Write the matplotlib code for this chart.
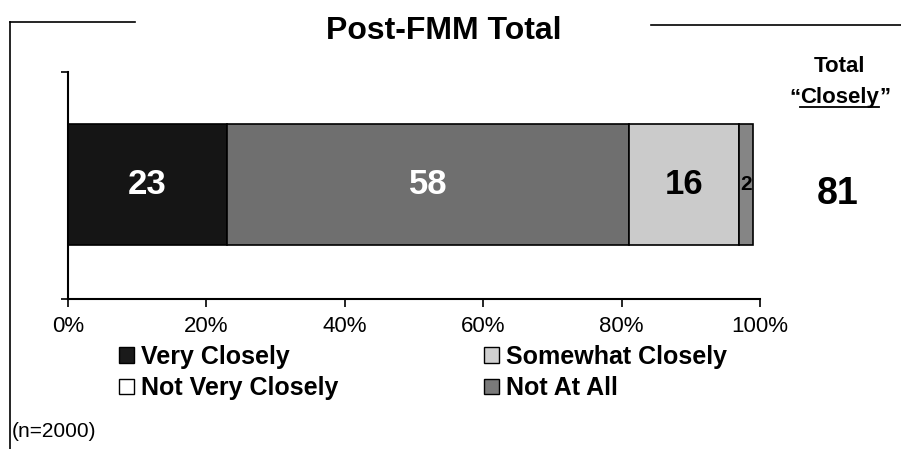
import matplotlib
matplotlib.use("Agg")
import matplotlib.pyplot as plt
from matplotlib.patches import Patch
from matplotlib.lines import Line2D

plt.rcParams['font.family'] = ['Liberation Sans', 'DejaVu Sans']

# data
categories = ["Very Closely", "Somewhat Closely", "Not Very Closely", "Not At All"]
values = [23, 58, 16, 2]
bar_colors = ["#151515", "#6f6f6f", "#cbcbcb", "#858585"]
label_colors = ["white", "white", "black", "black"]
label_sizes = [25, 25, 25, 15]
legend_order = ["Very Closely", "Not Very Closely", "Somewhat Closely", "Not At All"]
legend_colors = ["#1a1a1a", "white", "#d0d0d0", "#7a7a7a"]  # as printed in the key, legend order
total_closely = 81
xticks = [0, 20, 40, 60, 80, 100]

fig = plt.figure(figsize=(9.01, 4.49), dpi=100)
ax = fig.add_axes([0.0755, 0.334, 0.768, 0.506])

left = 0
for v, c, lc, ls in zip(values, bar_colors, label_colors, label_sizes):
    ax.barh(0.504, v, left=left, height=0.533, color=c, edgecolor="black", linewidth=1.2)
    ax.text(left + v / 2, 0.504, str(v), ha="center", va="center",
            color=lc, fontsize=ls, fontweight="bold")
    left += v

ax.set_xlim(0, 100)
ax.set_ylim(0, 1)
ax.set_xticks(xticks)
ax.set_xticklabels([f"{t}%" for t in xticks], fontsize=16)
ax.set_yticks([0, 1])
ax.set_yticklabels([])
ax.tick_params(axis="x", direction="out", length=6, width=1.2, pad=6)
ax.tick_params(axis="y", direction="out", length=5, width=1.2)
for s in ["top", "right"]:
    ax.spines[s].set_visible(False)
for s in ["left", "bottom"]:
    ax.spines[s].set_linewidth(1.5)

# title and border
fig.text(0.492, 0.93, "Post-FMM Total", ha="center", va="center",
         fontsize=23, fontweight="bold")
fig.add_artist(Line2D([0.011, 0.011], [0.0, 0.951], color="black", lw=1.2))
fig.add_artist(Line2D([0.011, 0.15], [0.951, 0.951], color="black", lw=1.2))
fig.add_artist(Line2D([0.722, 1.0], [0.944, 0.944], color="black", lw=1.2))

# total column
fig.text(0.932, 0.852, "Total", ha="center", va="center", fontsize=16, fontweight="bold")
cl = fig.text(0.932, 0.783, "Closely", ha="center", va="center", fontsize=16,
              fontweight="bold")
fig.canvas.draw()
bb = cl.get_window_extent().transformed(fig.transFigure.inverted())
fig.text(bb.x0, 0.783, "\u201c", ha="right", va="center", fontsize=16, fontweight="bold")
fig.text(bb.x1, 0.783, "\u201d", ha="left", va="center", fontsize=16, fontweight="bold")
fig.add_artist(Line2D([bb.x0, bb.x1], [bb.y0 + 0.003, bb.y0 + 0.003], color="black", lw=1.3))
fig.text(0.93, 0.567, str(total_closely), ha="center", va="center",
         fontsize=27, fontweight="bold")

# legend
handles = [Patch(facecolor=c, edgecolor="black", linewidth=1.0) for c in legend_colors]
fig.legend(handles, legend_order, loc="upper left", bbox_to_anchor=(0.132, 0.232),
           ncol=2, frameon=False, prop={"size": 18, "weight": "bold"},
           handlelength=0.6, handleheight=0.6, handletextpad=0.3,
           columnspacing=5.8, labelspacing=0.3, borderpad=0, borderaxespad=0)

fig.text(0.013, 0.038, "(n=2000)", ha="left", va="center", fontsize=15)

fig.savefig("out.png", dpi=100)
